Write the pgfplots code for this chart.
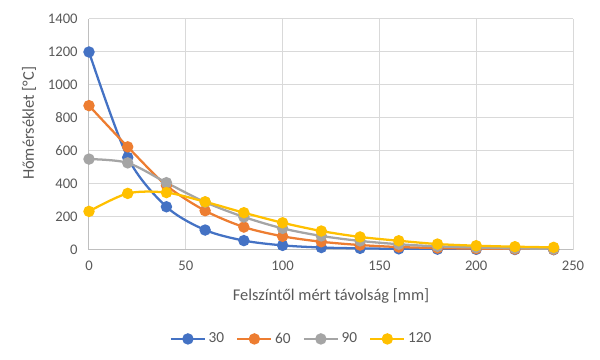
\documentclass[border=0pt]{standalone}
\usepackage{pgfplots}
\pgfplotsset{compat=1.18}
\usepackage{fontspec}
\setmainfont{Carlito}
\definecolor{txt}{RGB}{89,89,89}
\definecolor{grd}{RGB}{217,217,217}
\definecolor{axl}{RGB}{191,191,191}
\definecolor{cA}{RGB}{68,114,196}
\definecolor{cB}{RGB}{237,125,49}
\definecolor{cC}{RGB}{165,165,165}
\definecolor{cD}{RGB}{255,192,0}
\begin{document}
\begin{tikzpicture}
\path[use as bounding box] (-66.75pt,-82.5pt) rectangle (383.25pt,187.5pt);
\begin{axis}[
  at={(0,0)}, anchor=south west,
  scale only axis, width=363pt, height=173.25pt,
  xmin=0, xmax=250, ymin=0, ymax=1400,
  xtick={0,50,...,250}, ytick={0,200,...,1400},
  grid=major, major grid style={grd, line width=0.75pt},
  axis x line*=bottom, axis y line*=left,
  axis line style={axl, line width=0.75pt, -},
  tick style={draw=none},
  /pgf/number format/assume math mode=true,
  /pgf/number format/1000 sep={},
  ticklabel style={font=\fontsize{11}{13}\selectfont, text=txt},
  xticklabel style={yshift=-5pt},
  yticklabel style={xshift=-5pt},
  xlabel={Felszíntől mért távolság [mm]},
  ylabel={Hőmérséklet [°C]},
  label style={font=\fontsize{12.3}{14}\selectfont, text=txt},
  xlabel style={at={(axis description cs:0.5,-0.199)}, anchor=center},
  ylabel style={at={(axis description cs:-0.124,0.548)}, anchor=center},
  every axis plot/.append style={line width=1.7pt, smooth, tension=0.5, mark=*, mark size=3.4pt},
  legend columns=-1,
  legend style={at={(0.44,-0.385)}, anchor=center, draw=none, font=\fontsize{11.5}{13}\selectfont, text=txt,
    /tikz/every even column/.append style={column sep=7pt}},
  legend image code/.code={\draw[#1, mark=none] (0pt,0pt) -- (25.5pt,0pt); \path[#1] plot coordinates {(12.75pt,0pt)};},
]
\addplot[cA, mark options={fill=cA}] coordinates {(0,1200) (20,561) (40,262) (60,121) (80,57) (100,28) (120,15) (140,10) (160,7) (180,5) (200,4) (220,3) (240,2)};
\addplot[cB, mark options={fill=cB}] coordinates {(0,875) (20,625) (40,391) (60,238) (80,139) (100,83) (120,50) (140,30) (160,18) (180,12) (200,8) (220,5) (240,3)};
\addplot[cC, mark options={fill=cC}] coordinates {(0,551) (20,528) (40,408) (60,290) (80,200) (100,131) (120,85) (140,55) (160,35) (180,22) (200,15) (220,10) (240,6)};
\addplot[cD, mark options={fill=cD}] coordinates {(0,234) (20,343) (40,348) (60,292) (80,226) (100,165) (120,115) (140,79) (160,56) (180,36) (200,26) (220,20) (240,16)};
\legend{30,60,90,120}
\end{axis}
\end{tikzpicture}
\end{document}
